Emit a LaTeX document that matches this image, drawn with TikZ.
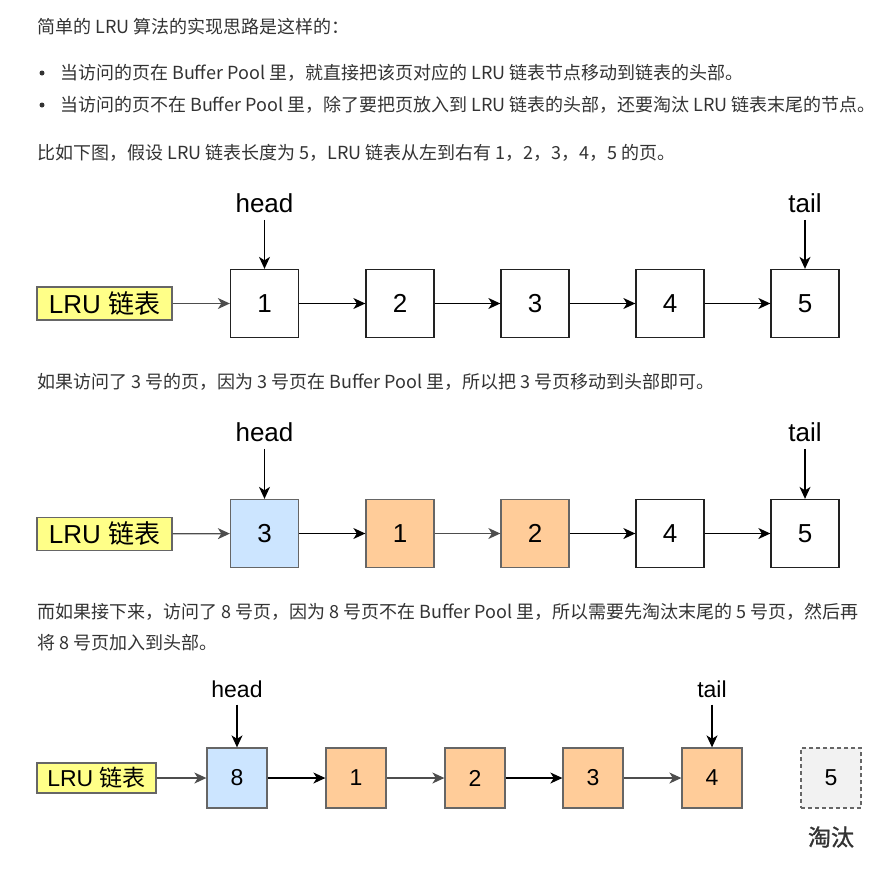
\documentclass[tikz,border=0pt]{standalone}
\usepackage{fontspec}
\setmainfont{Liberation Sans}
\newfontfamily\cjk{Noto Sans CJK SC}
\newfontfamily\cjkbold[FakeBold=1.2]{Noto Sans CJK SC}
\usetikzlibrary{arrows.meta}
\definecolor{txt}{HTML}{333333}
\definecolor{bdark}{HTML}{222222}
\definecolor{bgray}{HTML}{666666}
\definecolor{agray}{HTML}{4D4D4D}
\definecolor{bluefill}{HTML}{CCE5FF}
\definecolor{orangefill}{HTML}{FFCC99}
\definecolor{yellowfill}{HTML}{FFFF88}
\definecolor{grayfill}{HTML}{F2F2F2}
\tikzset{
  body/.style={anchor=west, inner sep=0, text=txt, font=\cjk\fontsize{18}{18}\selectfont},
  dot/.style={circle, fill=txt, inner sep=0, minimum size=5pt},
  pagebox/.style={draw=bdark, line width=1.3pt, fill=white, minimum width=68pt, minimum height=68pt, inner sep=0, font=\fontsize{26}{26}\selectfont},
  smallbox/.style={pagebox, minimum width=60pt, minimum height=60pt, font=\fontsize{23}{23}\selectfont},
  bluebox/.style={fill=bluefill, draw=bgray},
  orangebox/.style={fill=orangefill, draw=bgray},
  gonebox/.style={fill=grayfill, draw=bgray, dashed, dash pattern=on 4pt off 3pt},
  lrulabel/.style={draw=bgray, line width=1.3pt, fill=yellowfill, minimum width=135pt, minimum height=33pt, inner sep=0, font=\fontsize{26}{26}\selectfont},
  smalllabel/.style={lrulabel, minimum width=119pt, minimum height=30pt, font=\fontsize{23}{23}\selectfont},
  ptr/.style={inner sep=0, font=\fontsize{26}{26}\selectfont},
  smallptr/.style={inner sep=0, font=\fontsize{23}{23}\selectfont},
  arr/.style={-{Stealth[length=12pt,width=11pt,inset=3.5pt]}, line width=1.3pt, draw=black},
  garr/.style={arr, draw=agray},
}
\begin{document}
\begin{tikzpicture}[x=1pt,y=-1pt]
\fill[white] (0,0) rectangle (891,868);
\useasboundingbox (0,0) rectangle (891,868);

% ---------- text ----------
\node[body] (t1) at (37,27) {简单的 LRU 算法的实现思路是这样的：};
\node[dot] (d1) at (42,73) {};
\node[body] (t2) at (60,73) {当访问的页在 Buffer Pool 里，就直接把该页对应的 LRU 链表节点移动到链表的头部。};
\node[dot] (d2) at (42,105) {};
\node[body] (t3) at (60,105) {当访问的页不在 Buffer Pool 里，除了要把页放入到 LRU 链表的头部，还要淘汰 LRU 链表末尾的节点。};
\node[body] (t4) at (37,153) {比如下图，假设 LRU 链表长度为 5，LRU 链表从左到右有 1，2，3，4，5 的页。};
\node[body] (t5) at (37,382) {如果访问了 3 号的页，因为 3 号页在 Buffer Pool 里，所以把 3 号页移动到头部即可。};
\node[body] (t6) at (37,612) {而如果接下来，访问了 8 号页，因为 8 号页不在 Buffer Pool 里，所以需要先淘汰末尾的 5 号页，然后再};
\node[body] (t7) at (37,643) {将 8 号页加入到头部。};

% ---------- diagram 1 ----------
\node[lrulabel] (l1) at (104.5,303.5) {LRU {\cjk 链表}};
\node[pagebox] (a1) at (264.5,303.5) {1};
\node[pagebox] (a2) at (400,303.5) {2};
\node[pagebox] (a3) at (535,303.5) {3};
\node[pagebox] (a4) at (670,303.5) {4};
\node[pagebox] (a5) at (805,303.5) {5};
\node[ptr] (h1) at (264.5,203) {head};
\node[ptr] (k1) at (805,203) {tail};
\draw[garr] (l1) -- (a1);
\draw[arr] (a1) -- (a2);
\draw[arr] (a2) -- (a3);
\draw[arr] (a3) -- (a4);
\draw[arr] (a4) -- (a5);
\draw[arr, shorten <=7pt] (h1) -- (a1);
\draw[arr, shorten <=7pt] (k1) -- (a5);

% ---------- diagram 2 ----------
\node[lrulabel] (l2) at (104.5,534) {LRU {\cjk 链表}};
\node[pagebox, bluebox] (b3) at (264.5,533.5) {3};
\node[pagebox, orangebox] (b1) at (400,533.5) {1};
\node[pagebox, orangebox] (b2) at (535,533.5) {2};
\node[pagebox] (b4) at (670,533.5) {4};
\node[pagebox] (b5) at (805,533.5) {5};
\node[ptr] (h2) at (264.5,432) {head};
\node[ptr] (k2) at (805,432) {tail};
\draw[garr] (l2) -- (b3);
\draw[arr] (b3) -- (b1);
\draw[garr] (b1) -- (b2);
\draw[arr] (b2) -- (b4);
\draw[arr] (b4) -- (b5);
\draw[arr, shorten <=7pt] (h2) -- (b3);
\draw[arr, shorten <=7pt] (k2) -- (b5);

% ---------- diagram 3 ----------
\node[smalllabel] (l3) at (96.5,778) {LRU {\cjk 链表}};
\node[smallbox, bluebox] (c8) at (237,778) {8};
\node[smallbox, orangebox] (c1) at (356,778) {1};
\node[smallbox, orangebox] (c2) at (475,778) {2};
\node[smallbox, orangebox] (c3) at (593,778) {3};
\node[smallbox, orangebox] (c4) at (712,778) {4};
\node[smallbox, gonebox] (c5) at (831,778) {5};
\node[smallptr] (h3) at (237,689) {head};
\node[smallptr] (k3) at (712,689) {tail};
\node[inner sep=0, text=txt, font=\cjkbold\fontsize{23}{23}\selectfont] (gone) at (831,837) {淘汰};
\draw[garr] (l3) -- (c8);
\draw[arr] (c8) -- (c1);
\draw[garr] (c1) -- (c2);
\draw[arr] (c2) -- (c3);
\draw[garr] (c3) -- (c4);
\draw[arr, shorten <=7pt] (h3) -- (c8);
\draw[arr, shorten <=7pt] (k3) -- (c4);
\end{tikzpicture}
\end{document}
